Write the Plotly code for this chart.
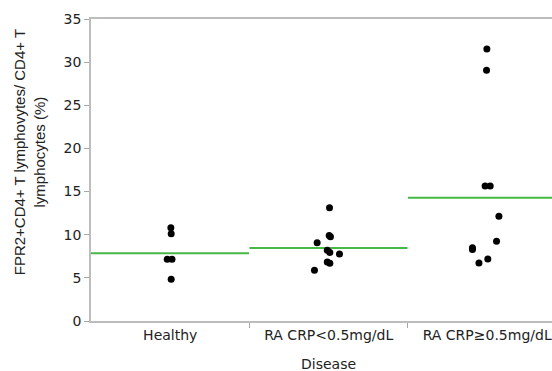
import plotly.graph_objects as go

categories = ["Healthy", "RA CRP<0.5mg/dL", "RA CRP≥0.5mg/dL"]

healthy_vals = [10.8, 10.1, 7.15, 7.15, 4.83]
healthy_jit = [0.004, 0.006, -0.019, 0.011, 0.006]

low_vals = [13.13, 9.9, 9.75, 9.07, 8.2, 7.95, 7.76, 6.84, 6.68, 5.87]
low_jit = [0.005, 0.003, 0.011, -0.073, -0.009, 0.007, 0.068, -0.009, 0.007, -0.09]

high_vals = [31.52, 29.05, 15.64, 15.64, 12.13, 9.23, 8.5, 8.3, 7.18, 6.72]
high_jit = [-0.002, -0.004, -0.013, 0.019, 0.074, 0.059, -0.093, -0.093, 0.004, -0.052]

group_means = [7.84, 8.46, 14.29]

y_ticks = [0, 5, 10, 15, 20, 25, 30, 35]

groups = [(healthy_vals, healthy_jit), (low_vals, low_jit), (high_vals, high_jit)]

fig = go.Figure()

for i, m in enumerate(group_means):
    fig.add_trace(go.Scatter(
        x=[i - 0.5, i + 0.497], y=[m, m], mode="lines",
        line=dict(color="#46b846", width=2), hoverinfo="skip", showlegend=False))

for i, (vals, jit) in enumerate(groups):
    fig.add_trace(go.Scatter(
        x=[i + j for j in jit], y=vals, mode="markers",
        marker=dict(color="black", size=7), showlegend=False))

fig.update_layout(
    width=552, height=371,
    margin=dict(l=91, r=0, t=19, b=50),
    paper_bgcolor="white", plot_bgcolor="white",
    font=dict(family="DejaVu Sans", size=14, color="#222222"),
    xaxis=dict(
        range=[-0.5, 2.409], tickmode="array", tickvals=[0, 1, 2], ticktext=categories,
        ticks="", showgrid=False, zeroline=False,
        showline=True, linecolor="#bdbdbd", linewidth=1.5, mirror=True,
        minor=dict(tickmode="array", tickvals=[0.5, 1.5], ticks="outside",
                   ticklen=5, tickcolor="#a8a8a8", tickwidth=1, showgrid=False),
        tickfont=dict(size=14, family="DejaVu Sans", color="#222222"),
    ),
    yaxis=dict(
        range=[0, 35], tickmode="array", tickvals=y_ticks,
        ticks="outside", ticklen=5, tickcolor="#a8a8a8", tickwidth=1,
        showgrid=False, zeroline=False,
        showline=True, linecolor="#bdbdbd", linewidth=1.5,
        tickfont=dict(size=14, family="DejaVu Sans", color="#222222"),
    ),
    annotations=[
        dict(text="FPR2+CD4+ T lymphovytes/ CD4+ T<br>lymphocytes (%)",
             xref="paper", yref="paper", x=-0.176, y=0.56, xanchor="left", yanchor="middle",
             textangle=-90, showarrow=False,
             font=dict(family="Liberation Sans", size=15, color="#222222")),
        dict(text="Disease", xref="x", yref="paper", x=1.0, y=-0.108,
             xanchor="center", yanchor="top", showarrow=False,
             font=dict(family="DejaVu Sans", size=14, color="#222222")),
    ],
)

fig.write_html("out.html")
